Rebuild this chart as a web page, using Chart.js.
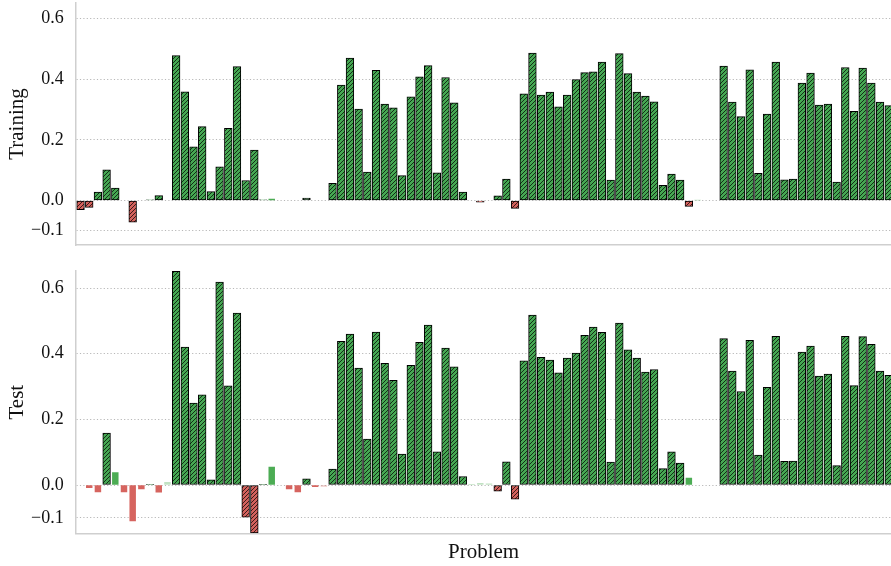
<!DOCTYPE html>
<html><head><meta charset="utf-8">
<script src="https://cdn.jsdelivr.net/npm/chart.js@4/dist/chart.umd.min.js"></script>
<style>
html,body{margin:0;padding:0;background:#fff;}
#wrap{position:relative;width:891px;height:566px;overflow:hidden;background:#fff;}
canvas{position:absolute;left:0;}
</style></head><body>
<div id="wrap">
<canvas id="cTop" width="891" height="258" style="top:0px"></canvas>
<canvas id="cBot" width="891" height="308" style="top:258px"></canvas>
</div>
<script>
// ---- data (one entry per problem; null = no bar) ----
const trainValues = [
 -0.030,-0.023, 0.028, 0.101, 0.041, null,-0.072, null, 0.002, 0.016,
  null, 0.478, 0.359, 0.177, 0.244, 0.029, 0.111, 0.238, 0.442, 0.066,
  0.166, 0.002, 0.005, null, null, null, 0.008, null, null, 0.057,
  0.381, 0.470, 0.302, 0.094, 0.430, 0.318, 0.306, 0.082, 0.342, 0.408,
  0.445, 0.091, 0.406, 0.322, 0.028, null,-0.006, null, 0.015, 0.071,
 -0.026, 0.352, 0.487, 0.348, 0.358, 0.309, 0.348, 0.399, 0.422, 0.425,
  0.457, 0.067, 0.485, 0.419, 0.358, 0.345, 0.326, 0.050, 0.087, 0.067,
 -0.020, 0.001, null, null, 0.444, 0.325, 0.277, 0.431, 0.090, 0.285,
  0.457, 0.068, 0.071, 0.388, 0.421, 0.315, 0.318, 0.061, 0.439, 0.294,
  0.437, 0.388, 0.325, 0.313
];
// significance: 2 = significant (hatched), 1 = not significant, 0 = weak
const trainSig = [
 2,2,2,2,2,0,2,0,2,2, 0,2,2,2,2,2,2,2,2,2, 2,2,1,0,0,0,2,0,0,2,
 2,2,2,2,2,2,2,2,2,2, 2,2,2,2,2,0,2,0,2,2, 2,2,2,2,2,2,2,2,2,2,
 2,2,2,2,2,2,2,2,2,2, 2,0,0,0,2,2,2,2,2,2, 2,2,2,2,2,2,2,2,2,2,
 2,2,2,2
];
const testValues = [
  null,-0.008,-0.021, 0.158, 0.038,-0.021,-0.109,-0.012, 0.002,-0.022,
  0.008, 0.651, 0.420, 0.250, 0.275, 0.016, 0.618, 0.302, 0.524,-0.098,
 -0.146, 0.002, 0.055, null,-0.012,-0.021, 0.019,-0.005,-0.004, 0.049,
  0.438, 0.460, 0.356, 0.140, 0.466, 0.371, 0.319, 0.094, 0.365, 0.435,
  0.487, 0.101, 0.417, 0.360, 0.026, 0.001, 0.005, 0.004,-0.019, 0.071,
 -0.043, 0.378, 0.518, 0.389, 0.381, 0.342, 0.387, 0.402, 0.456, 0.481,
  0.465, 0.070, 0.493, 0.412, 0.387, 0.344, 0.352, 0.050, 0.101, 0.067,
  0.021, null, null, null, 0.446, 0.347, 0.285, 0.441, 0.091, 0.298,
  0.453, 0.072, 0.073, 0.405, 0.423, 0.332, 0.338, 0.059, 0.453, 0.303,
  0.452, 0.429, 0.347, 0.334
];
const testSig = [
 0,1,1,2,1,1,1,1,2,1, 0,2,2,2,2,2,2,2,2,2, 2,2,1,0,1,1,2,1,0,2,
 2,2,2,2,2,2,2,2,2,2, 2,2,2,2,2,0,0,0,2,2, 2,2,2,2,2,2,2,2,2,2,
 2,2,2,2,2,2,2,2,2,2, 1,0,0,0,2,2,2,2,2,2, 2,2,2,2,2,2,2,2,2,2,
 2,2,2,2
];
const yTicks = [-0.1, 0.0, 0.2, 0.4, 0.6];
const panelTitles = ['Training', 'Test'];
const xTitle = 'Problem';

// ---- styling ----
const SERIF = "'Liberation Serif','Times New Roman',serif";
function hatch(fill) {
  const c = document.createElement('canvas'); c.width = 4; c.height = 4;
  const g = c.getContext('2d');
  g.fillStyle = fill; g.fillRect(0, 0, 4, 4);
  g.strokeStyle = 'rgba(0,0,0,0.8)'; g.lineWidth = 0.9;
  g.beginPath();
  g.moveTo(0, 4); g.lineTo(4, 0);
  g.moveTo(-1, 1); g.lineTo(1, -1);
  g.moveTo(3, 5); g.lineTo(5, 3);
  g.stroke();
  return g.createPattern(c, 'repeat');
}
const greenHatch = hatch('#46a853');
const redHatch = hatch('#d4625d');

function makeChart(canvasId, values, sig, title, isBottom) {
  const sigData = [], nsData = [];
  values.forEach((v, i) => {
    if (v === null) return;
    (sig[i] === 2 ? sigData : nsData).push({x: i, y: v});
  });
  const pad = isBottom ? {top: 13, bottom: 0.5, left: 0, right: 0}
                       : {top: 3, bottom: 13, left: 0, right: 0};
  return new Chart(document.getElementById(canvasId), {
    type: 'bar',
    data: {
      datasets: [
        {
          data: sigData, grouped: false, barThickness: 7.7, clip: 0,
          borderColor: '#000', borderWidth: 1, borderSkipped: false,
          backgroundColor: c => (c.raw && c.raw.y < 0) ? redHatch : greenHatch
        },
        {
          data: nsData, grouped: false, barThickness: 5.8, clip: 0,
          borderWidth: 0,
          backgroundColor: c => {
            if (!c.raw) return '#4caf50';
            const a = sig[c.raw.x] === 1 ? 1 : 0.35;
            return c.raw.y < 0 ? `rgba(214,100,95,${a})` : `rgba(76,172,84,${a})`;
          }
        }
      ]
    },
    options: {
      responsive: false, animation: false, devicePixelRatio: 1,
      layout: {padding: pad},
      plugins: {legend: {display: false}, tooltip: {enabled: false}},
      scales: {
        x: {
          type: 'linear', min: -0.5, max: 93.26, offset: false,
          grid: {display: false, drawTicks: false},
          border: {display: true, color: '#cfcfcf', width: 1.5},
          ticks: {display: false},
          title: {display: isBottom, text: xTitle, color: '#111',
                  font: {family: SERIF, size: 21}, padding: {top: 7, bottom: 0}}
        },
        y: {
          min: -0.147, max: 0.652,
          afterBuildTicks: s => { s.ticks = yTicks.map(v => ({value: v})); },
          afterFit: s => { s.width = 76.2; s.paddingTop = 0; s.paddingBottom = 0; },
          grid: {color: '#b8b8b8', lineWidth: 1, drawTicks: false},
          border: {display: true, color: '#cfcfcf', width: 1.5, dash: [1.2, 2.2]},
          ticks: {
            padding: 12.5, color: '#111', autoSkip: false,
            font: {family: SERIF, size: 18},
            callback: v => (v < 0 ? '\u2212' : '') + Math.abs(v).toFixed(1)
          },
          title: {display: true, text: title, color: '#111',
                  font: {family: SERIF, size: 21}, padding: {top: 4.5, bottom: 0}}
        }
      }
    }
  });
}
makeChart('cTop', trainValues, trainSig, panelTitles[0], false);
makeChart('cBot', testValues, testSig, panelTitles[1], true);
</script>
</body></html>
